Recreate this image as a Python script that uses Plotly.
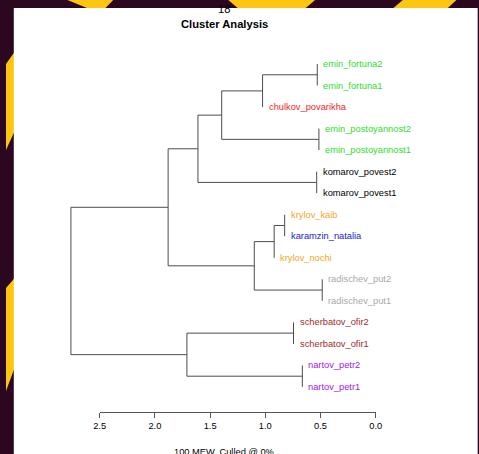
import plotly.graph_objects as go

# ---------------- data ----------------
labels = [
    "emin_fortuna2", "emin_fortuna1", "chulkov_povarikha",
    "emin_postoyannost2", "emin_postoyannost1",
    "komarov_povest2", "komarov_povest1",
    "krylov_kaib", "karamzin_natalia", "krylov_nochi",
    "radischev_put2", "radischev_put1",
    "scherbatov_ofir2", "scherbatov_ofir1",
    "nartov_petr2", "nartov_petr1",
]
label_colors = [
    "#2ee02e", "#2ee02e", "#f52525",
    "#2ee02e", "#2ee02e",
    "#000000", "#000000",
    "#f5a623", "#2020d8", "#f5a623",
    "#a8a8a8", "#a8a8a8",
    "#a52a2a", "#a52a2a",
    "#a020f0", "#a020f0",
]
# hclust-style merges: negative = leaf (1-based), positive = earlier merge (1-based)
merges = [
    (-1, -2), (-4, -5), (-6, -7), (-11, -12), (-13, -14), (-15, -16),
    (-8, -9), (7, -10), (1, -3), (8, 4), (9, 2), (11, 3), (5, 6),
    (12, 10), (14, 13),
]
heights = [0.53, 0.515, 0.535, 0.485, 0.745, 0.665,
           0.825, 0.92, 1.025, 1.10, 1.395, 1.61, 1.71,
           1.88, 2.76]
axis_ticks = [2.5, 2.0, 1.5, 1.0, 0.5, 0.0]
tick_labels = ["2.5", "2.0", "1.5", "1.0", "0.5", "0.0"]
title_lines = ["18", "Cluster Analysis"]
x_title = "100 MEW, Culled @ 0%"

# ---------------- layout geometry ----------------
W, H = 479, 454
X0_PX, PX_PER_UNIT = 379.3, 113.3      # pixel of height 0, pixels per unit
Y0_PX, PX_PER_LEAF = 64.0, 21.53       # pixel of first leaf, spacing
AXIS_PX = 412.0
FONT = "Liberation Sans, Arial, Helvetica, sans-serif"
TREE_COLOR = "#4d4d4d"
DARK = "#2b0820"
YELLOW = "#fdc612"

# ---------------- build dendrogram segments ----------------
n = len(labels)
leaf_y = list(range(n))
node_y = {}
label_h = [0.0] * n
xs, ys = [], []


def pos(ref):
    if ref < 0:
        return leaf_y[-ref - 1], None
    return node_y[ref], heights[ref - 1]


for k, (a, b) in enumerate(merges, start=1):
    h = heights[k - 1]
    ya, ha = pos(a)
    yb, hb = pos(b)
    for ref, yy, hh in ((a, ya, ha), (b, yb, hb)):
        if ref < 0:
            label_h[-ref - 1] = h
        else:
            xs += [hh, h, None]
            ys += [yy, yy, None]
    xs += [h, h, None]
    ys += [ya, yb, None]
    node_y[k] = (ya + yb) / 2

fig = go.Figure()
fig.add_trace(go.Scatter(
    x=xs, y=ys, mode="lines",
    line=dict(color=TREE_COLOR, width=1),
    hoverinfo="skip", showlegend=False,
))
# invisible trace bound to the scale axis so it is rendered
fig.add_trace(go.Scatter(
    x=axis_ticks, y=[0] * len(axis_ticks), xaxis="x2", yaxis="y",
    mode="markers", marker=dict(opacity=0), hoverinfo="skip", showlegend=False,
))

annotations = []
for i, (lab, col) in enumerate(zip(labels, label_colors)):
    annotations.append(dict(
        x=label_h[i], y=leaf_y[i], xref="x", yref="y",
        text=lab, showarrow=False, xanchor="left", yanchor="middle",
        xshift=4, font=dict(family=FONT, size=9.3, color=col),
    ))

cx = 224 / W
annotations.append(dict(x=cx, y=1 - 9.5 / H, xref="paper", yref="paper",
                        text=title_lines[0], showarrow=False, yanchor="middle",
                        font=dict(family=FONT, size=11.2, color="black"),
                        ))
annotations.append(dict(x=cx, y=1 - 24 / H, xref="paper", yref="paper",
                        text="<b>" + title_lines[1] + "</b>", showarrow=False,
                        yanchor="middle",
                        font=dict(family=FONT, size=11.2, color="black")))
annotations.append(dict(x=cx, y=1 - 451.7 / H, xref="paper", yref="paper",
                        text=x_title, showarrow=False, yanchor="middle",
                        font=dict(family=FONT, size=9.3, color="black")))


def px_path(pts):
    s = "M " + " L ".join(f"{x / W:.5f},{1 - y / H:.5f}" for x, y in pts) + " Z"
    return s


stripes = [
    [(0, 64), (8, 53), (12, 50), (12, 131), (8, 133), (0, 150)],
    [(0, 288), (8, 279), (12, 275), (12, 362), (8, 370), (0, 391)],
    [(63, 0), (110, 0), (100, 10), (88, 10)],
    [(228, 0), (317, 0), (305, 10), (240, 10)],
    [(407, 0), (462, 0), (451, 10), (395, 10)],
]
shapes = []
for st in stripes:
    shapes.append(dict(type="path", path=px_path(st), xref="paper", yref="paper",
                       fillcolor=YELLOW, line=dict(width=0), layer="below"))
shapes.append(dict(type="rect", xref="paper", yref="paper",
                   x0=8 / W, x1=1.01, y0=-0.01, y1=1 - 8 / H,
                   fillcolor="white", line=dict(width=0), layer="below"))

fig.update_layout(
    width=W, height=H,
    margin=dict(l=0, r=0, t=0, b=0, pad=0),
    paper_bgcolor=DARK,
    plot_bgcolor="rgba(0,0,0,0)",
    showlegend=False,
    xaxis=dict(range=[X0_PX / PX_PER_UNIT, (X0_PX - W) / PX_PER_UNIT],
               visible=False, fixedrange=True, domain=[0, 1]),
    yaxis=dict(range=[(H - Y0_PX) / PX_PER_LEAF, -Y0_PX / PX_PER_LEAF],
               visible=False, fixedrange=True, domain=[0, 1]),
    xaxis2=dict(
        anchor="free", position=1 - AXIS_PX / H, side="bottom",
        domain=[(X0_PX - axis_ticks[0] * PX_PER_UNIT) / W, X0_PX / W],
        range=[axis_ticks[0], axis_ticks[-1]],
        tickvals=axis_ticks, ticktext=tick_labels,
        showline=True, linecolor="#555555", linewidth=1,
        ticks="outside", ticklen=5, tickcolor="#555555", tickwidth=1,
        showgrid=False, zeroline=False,
        tickfont=dict(family=FONT, size=9.3, color="black"),
        fixedrange=True,
    ),
    annotations=annotations,
    shapes=shapes,
)

fig.write_html(
    "out.html",
    config={"displayModeBar": False, "responsive": False},
    post_script="document.body.style.margin='0';"
                "document.body.style.background='" + DARK + "';"
                "document.body.style.overflow='hidden';",
)
